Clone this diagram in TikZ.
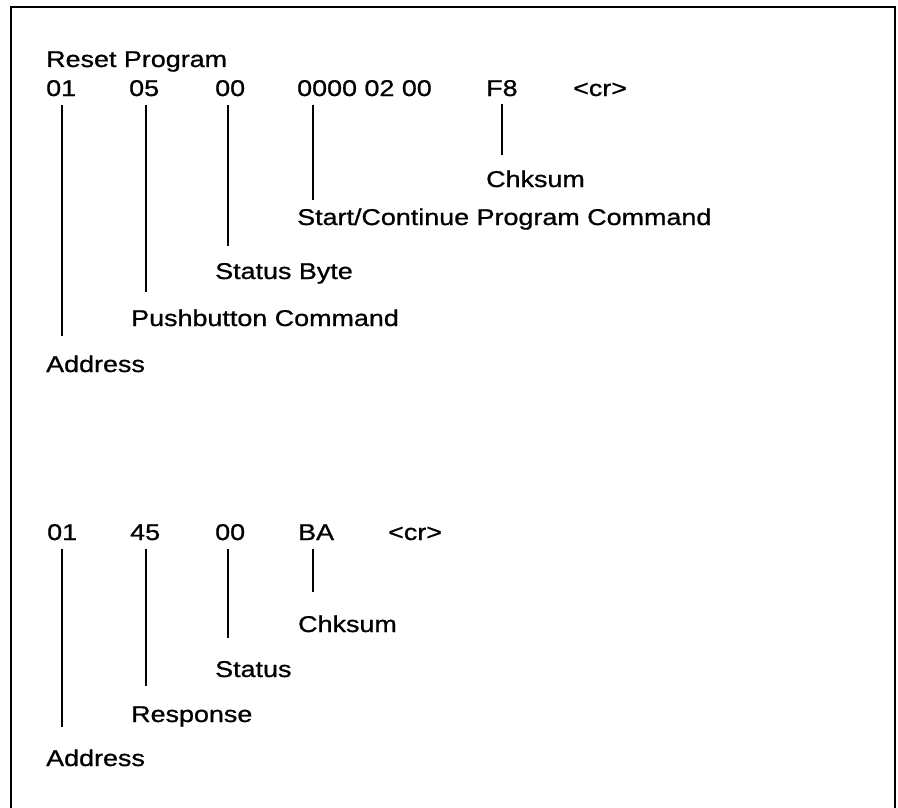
\documentclass[tikz,border=0pt]{standalone}
\usepackage{fontspec}
\setmainfont{Liberation Sans}[FakeStretch=1.18,FakeBold=0.9]
\begin{document}
\begin{tikzpicture}[x=1pt,y=-1pt,
  txt/.style={anchor=base west,inner sep=0pt,font=\fontsize{22.8}{27}\selectfont},
  lead/.style={line width=1.8pt},
  rough/.style={line width=1.3pt},
  frame/.style={line width=2pt}]
\useasboundingbox (0,0) rectangle (898,808);
\draw[frame] (11,808) -- (11,7) -- (895,7) -- (895,808);
% ---- upper block
\node[txt] (title) at (46,67) {Reset Program};
\node[txt] (a01) at (46,96) {01};
\node[txt] (a05) at (129,96) {05};
\node[txt] (a00) at (215,96) {00};
\node[txt] (acmd) at (297,96) {0000 02 00};
\node[txt] (af8) at (486,96) {F8};
\node[txt] (acr) at (573,96) {<cr>};
\node[txt] (lchk) at (486,187) {Chksum};
\node[txt] (lstart) at (297,225) {Start/Continue Program Command};
\node[txt] (lstat) at (215,279) {Status Byte};
\node[txt] (lpush) at (131,326) {Pushbutton Command};
\node[txt] (laddr) at (46,372) {Address};
\coordinate (ea01) at (62,336);
\coordinate (ea05) at (146,292);
\coordinate (ea00) at (228,246);
\coordinate (eacmd) at (313,200);
\coordinate (eaf8) at (502,155);
\draw[lead,shorten <=9pt] (a01.south -| ea01) -- (ea01);
\draw[lead,shorten <=9pt] (a05.south -| ea05) -- (ea05);
\draw[lead,shorten <=9pt] (a00.south -| ea00) -- (ea00);
\draw[lead,shorten <=9pt] (acmd.south -| eacmd) -- (eacmd);
\draw[rough,shorten <=8pt] (af8.south -| eaf8) -- (eaf8);
% ---- lower block
\node[txt] (b01) at (47,540) {01};
\node[txt] (b45) at (130,540) {45};
\node[txt] (b00) at (215,540) {00};
\node[txt] (bba) at (298,540) {BA};
\node[txt] (bcr) at (388,540) {<cr>};
\node[txt] (mchk) at (298,632) {Chksum};
\node[txt] (mstat) at (215,677) {Status};
\node[txt] (mresp) at (131,722) {Response};
\node[txt] (maddr) at (46,766) {Address};
\coordinate (eb01) at (62,727);
\coordinate (eb45) at (146,686);
\coordinate (eb00) at (228,638);
\coordinate (ebba) at (313,592);
\draw[rough,shorten <=9pt] (b01.south -| eb01) -- (eb01);
\draw[lead,shorten <=9pt] (b45.south -| eb45) -- (eb45);
\draw[lead,shorten <=9pt] (b00.south -| eb00) -- (eb00);
\draw[rough,shorten <=9pt] (bba.south -| ebba) -- (ebba);
\end{tikzpicture}
\end{document}
